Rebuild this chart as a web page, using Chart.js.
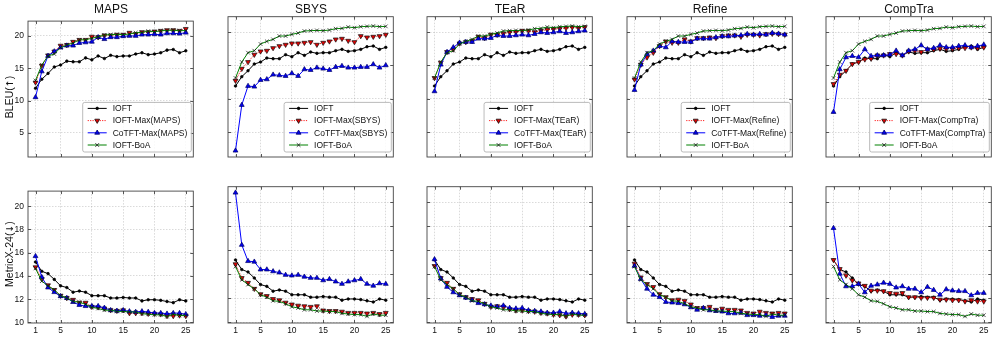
<!DOCTYPE html>
<html>
<head>
<meta charset="utf-8">
<script src="https://cdn.jsdelivr.net/npm/chart.js@4.4.1/dist/chart.umd.min.js"></script>
<style>
  body { margin: 0; background: #fff; }
  #fig { position: relative; width: 997px; height: 339px; overflow: hidden; font-family: 'Liberation Sans', Arial, sans-serif; color: #111; }
  #fig canvas { position: absolute; }
  .title { position: absolute; font-size: 12px; line-height: 13px; text-align: center; }
  .ylab { position: absolute; font-size: 10.5px; line-height: 12px; text-align: center; white-space: nowrap; transform: rotate(-90deg); }
  .arrow { font-family: 'DejaVu Sans', sans-serif; font-size: 9.5px; }
</style>
</head>
<body>
<div id="fig"></div>
<script>
const steps = [1, 2, 3, 4, 5, 6, 7, 8, 9, 10, 11, 12, 13, 14, 15, 16, 17, 18, 19, 20, 21, 22, 23, 24, 25];
const methods = ['MAPS', 'SBYS', 'TEaR', 'Refine', 'CompTra'];
const stepTicks = [1, 5, 10, 15, 20, 25];
const bleuTicks = [5, 10, 15, 20];
const metricTicks = [10, 12, 14, 16, 18, 20];

// BLEU (top row)
const bleuIOFT = [11.9, 13.3, 14.2, 15.2, 15.5, 16.1, 16.0, 16.0, 16.6, 16.3, 16.9, 16.5, 17.0, 16.8, 16.9, 16.9, 17.2, 17.4, 17.1, 17.2, 17.4, 17.8, 17.9, 17.4, 17.7];
const bleuBoA = [13.1, 15.5, 16.9, 17.2, 18.2, 18.6, 18.9, 19.4, 19.4, 19.65, 19.85, 20.15, 20.2, 20.25, 20.2, 20.3, 20.5, 20.55, 20.75, 20.65, 20.8, 20.85, 20.9, 20.8, 20.85];
const bleuMaxMAPS = [12.8, 15.4, 17.0, 17.6, 18.5, 18.6, 19.1, 19.4, 19.4, 19.9, 19.8, 20.1, 20.1, 20.2, 20.2, 20.5, 20.3, 20.6, 20.6, 20.7, 20.8, 20.9, 20.9, 20.8, 21.1];
const bleuCoMAPS = [10.5, 14.5, 16.9, 17.6, 18.2, 18.5, 18.5, 18.9, 19.0, 19.1, 19.8, 19.5, 19.8, 19.8, 19.95, 20.0, 20.0, 20.2, 20.2, 20.25, 20.2, 20.4, 20.4, 20.35, 20.5];
const bleuMaxSBYS = [12.7, 14.5, 15.5, 16.6, 17.1, 17.2, 17.6, 17.9, 18.1, 18.3, 18.3, 18.4, 18.5, 18.1, 18.4, 18.6, 18.9, 19.0, 18.7, 18.5, 19.4, 19.2, 19.3, 19.4, 19.6];
const bleuCoSBYS = [2.2, 9.05, 11.9, 11.8, 12.8, 12.9, 13.6, 13.5, 13.4, 13.8, 13.4, 14.4, 14.3, 14.65, 14.5, 14.3, 14.75, 14.9, 14.65, 14.65, 14.75, 14.75, 15.15, 14.65, 15.0];
const bleuMaxTEaR = [13.1, 15.4, 17.0, 17.4, 18.3, 18.5, 18.7, 19.3, 19.1, 19.6, 19.6, 19.75, 19.95, 20.0, 20.2, 20.2, 20.0, 20.2, 20.35, 20.45, 20.5, 20.6, 20.7, 20.6, 20.75];
const bleuCoTEaR = [11.1, 15.1, 17.0, 17.7, 18.4, 18.5, 18.5, 19.0, 19.0, 19.1, 19.5, 19.4, 19.4, 19.5, 19.6, 19.5, 19.7, 19.95, 19.85, 19.95, 20.1, 19.85, 19.95, 20.1, 20.2];
const bleuMaxRefine = [12.9, 15.1, 16.2, 16.9, 17.9, 18.6, 18.4, 18.4, 18.9, 18.6, 19.1, 19.1, 19.2, 19.1, 19.4, 19.5, 19.5, 19.3, 19.6, 19.6, 19.5, 19.7, 19.75, 19.7, 19.6];
const bleuCoRefine = [11.3, 15.1, 16.7, 17.2, 17.9, 17.7, 18.6, 18.5, 18.5, 18.5, 19.0, 19.0, 19.0, 19.2, 19.35, 19.35, 19.45, 19.5, 19.7, 19.6, 19.7, 19.6, 19.85, 19.75, 19.6];
const bleuMaxCompTra = [12.2, 13.6, 14.2, 15.2, 15.5, 15.9, 16.0, 16.5, 16.5, 16.7, 16.7, 16.5, 17.1, 17.2, 17.0, 17.4, 17.4, 17.5, 17.5, 17.5, 17.6, 17.6, 17.7, 17.6, 17.7];
const bleuCoCompTra = [8.0, 14.4, 16.2, 16.4, 16.2, 17.4, 16.4, 16.5, 16.5, 16.6, 17.2, 16.5, 17.2, 17.4, 18.0, 17.4, 17.6, 18.0, 17.7, 17.7, 17.9, 18.0, 17.7, 17.9, 18.1];

// MetricX-24 (bottom row)
const metricIOFT = [15.2, 14.4, 14.2, 13.7, 13.15, 13.0, 12.6, 12.7, 12.6, 12.3, 12.3, 12.3, 12.1, 12.1, 12.15, 12.1, 12.1, 11.85, 11.95, 11.95, 11.9, 11.8, 11.7, 11.95, 11.85];
const metricBoA = [14.65, 13.55, 13.15, 12.8, 12.3, 12.1, 11.8, 11.75, 11.55, 11.3, 11.2, 11.05, 11.05, 10.95, 10.95, 10.9, 10.9, 10.75, 10.7, 10.65, 10.65, 10.5, 10.7, 10.6, 10.6];
const metricMaxMAPS = [14.75, 13.75, 13.2, 12.8, 12.3, 12.1, 11.95, 11.7, 11.7, 11.35, 11.3, 11.2, 11.05, 11.0, 11.05, 10.8, 10.8, 10.8, 10.75, 10.75, 10.7, 10.55, 10.55, 10.6, 10.55];
const metricCoMAPS = [15.7, 13.9, 13.0, 12.6, 12.25, 12.1, 11.75, 11.5, 11.4, 11.4, 11.4, 11.25, 11.05, 11.0, 11.05, 10.95, 10.9, 10.95, 10.9, 10.8, 10.8, 10.75, 10.8, 10.8, 10.7];
const metricMaxSBYS = [14.85, 13.7, 13.3, 12.8, 12.35, 12.2, 11.95, 11.85, 11.65, 11.5, 11.4, 11.35, 11.3, 11.35, 11.0, 10.95, 10.95, 10.9, 10.8, 10.8, 10.8, 10.75, 10.8, 10.7, 10.8];
const metricCoSBYS = [20.8, 16.45, 15.1, 15.05, 14.4, 14.4, 14.25, 14.15, 13.95, 13.9, 13.95, 13.8, 13.7, 13.7, 13.5, 13.6, 13.4, 13.2, 13.4, 13.5, 13.6, 13.2, 13.05, 13.25, 13.2];
const metricMaxTEaR = [14.7, 13.7, 13.3, 12.8, 12.35, 12.1, 11.95, 11.85, 11.55, 11.3, 11.35, 11.3, 11.1, 11.0, 11.0, 10.95, 10.9, 10.8, 10.75, 10.65, 10.6, 10.5, 10.65, 10.65, 10.6];
const metricCoTEaR = [15.25, 13.65, 12.95, 12.5, 12.25, 12.05, 11.85, 11.6, 11.5, 11.4, 11.3, 11.4, 11.2, 11.15, 11.2, 11.0, 10.95, 10.9, 10.8, 10.8, 10.9, 10.75, 10.8, 10.75, 10.7];
const metricMaxRefine = [14.9, 13.75, 13.2, 12.95, 12.35, 12.1, 11.85, 11.9, 11.8, 11.5, 11.2, 11.2, 11.3, 11.05, 11.15, 11.05, 11.05, 11.0, 10.8, 10.75, 10.9, 10.8, 10.75, 10.8, 10.75];
const metricCoRefine = [14.7, 13.6, 12.8, 12.3, 12.1, 11.7, 11.65, 11.6, 11.5, 11.25, 11.05, 11.2, 11.0, 10.95, 10.9, 10.75, 10.75, 10.8, 10.6, 10.6, 10.55, 10.6, 10.45, 10.55, 10.55];
const metricMaxCompTra = [15.2, 14.45, 13.9, 13.5, 13.25, 13.05, 12.65, 12.65, 12.6, 12.45, 12.4, 12.45, 12.1, 12.1, 12.05, 12.05, 12.05, 11.9, 11.9, 11.85, 11.85, 11.75, 11.85, 11.75, 11.75];
const metricCoCompTra = [17.85, 14.05, 13.0, 13.0, 13.2, 12.5, 13.05, 13.15, 13.3, 13.2, 12.9, 13.0, 12.8, 12.8, 12.5, 12.95, 12.7, 12.3, 12.75, 12.65, 12.6, 12.6, 12.25, 12.45, 12.45];

const bleuMax = [bleuMaxMAPS, bleuMaxSBYS, bleuMaxTEaR, bleuMaxRefine, bleuMaxCompTra];
const bleuCo = [bleuCoMAPS, bleuCoSBYS, bleuCoTEaR, bleuCoRefine, bleuCoCompTra];
const metricMax = [metricMaxMAPS, metricMaxSBYS, metricMaxTEaR, metricMaxRefine, metricMaxCompTra];
const metricCo = [metricCoMAPS, metricCoSBYS, metricCoTEaR, metricCoRefine, metricCoCompTra];

// layout of the plot boxes (px)
const colLeft = [28, 228, 427, 627, 826];
const plotW = 166;
const rowTop = [15, 185];
const rowH = [142, 138];
const yRange = [[1.25, 22.3], [9.95, 21.3]];
const padL = 27, padT = 3, padR = 4, padB = 16;

// series look: IOFT, IOFT-Max, CoTFT-Max, IOFT-BoA
const styles = [
  { color: '#000000', dash: [], point: 'circle', radius: 1.3, fill: '#000', edge: '#000', rot: 0 },
  { color: '#ff2020', dash: [1.2, 1.2], point: 'triangle', radius: 2.8, fill: '#e00000', edge: '#111', rot: 180 },
  { color: '#0000ff', dash: [], point: 'triangle', radius: 2.8, fill: '#0000ee', edge: '#000066', rot: 0 },
  { color: '#008000', dash: [], point: 'crossRot', radius: 2.6, fill: '#000', edge: '#111', rot: 0 }
];

const fig = document.getElementById('fig');
const fontFam = "'Liberation Sans', Arial, sans-serif";

const framePlugin = {
  id: 'frame',
  afterDraw(chart) {
    const a = chart.chartArea, ctx = chart.ctx;
    const xs = chart.scales.x, ys = chart.scales.y;
    ctx.save();
    ctx.strokeStyle = '#444';
    ctx.lineWidth = 0.9;
    ctx.strokeRect(a.left, a.top, a.right - a.left, a.bottom - a.top);
    ctx.beginPath();
    stepTicks.forEach(v => {
      const px = Math.round(xs.getPixelForValue(v)) + 0.5;
      ctx.moveTo(px, a.bottom); ctx.lineTo(px, a.bottom - 3);
      ctx.moveTo(px, a.top); ctx.lineTo(px, a.top + 3);
    });
    ys.ticks.forEach(t => {
      const py = Math.round(ys.getPixelForValue(t.value)) + 0.5;
      ctx.moveTo(a.left, py); ctx.lineTo(a.left + 3, py);
      ctx.moveTo(a.right, py); ctx.lineTo(a.right - 3, py);
    });
    ctx.stroke();

    const labels = chart.options.plugins.frame.labels;
    if (labels) {
      ctx.font = '8.5px ' + fontFam;
      let tw = 0;
      labels.forEach(l => { tw = Math.max(tw, ctx.measureText(l).width); });
      const rowGap = 12.2;
      const w = 30 + tw + 4, h = 6 + rowGap * 3 + 7;
      const x0 = a.right - 2 - w, y0 = a.bottom - 5 - h;
      ctx.beginPath();
      ctx.roundRect(x0, y0, w, h, 2);
      ctx.fillStyle = 'rgba(255,255,255,0.85)';
      ctx.fill();
      ctx.strokeStyle = '#aaa';
      ctx.lineWidth = 0.8;
      ctx.stroke();
      labels.forEach((l, i) => {
        const s = styles[i];
        const y = y0 + 6 + i * rowGap;
        ctx.save();
        ctx.strokeStyle = s.color;
        ctx.lineWidth = 1;
        ctx.setLineDash(s.dash);
        ctx.beginPath();
        ctx.moveTo(x0 + 5, y); ctx.lineTo(x0 + 24, y);
        ctx.stroke();
        ctx.restore();
        ctx.fillStyle = s.fill;
        ctx.strokeStyle = s.edge;
        Chart.helpers.drawPoint(ctx, { pointStyle: s.point, radius: s.radius, rotation: s.rot, borderWidth: 0.7 }, x0 + 14.5, y);
        ctx.fillStyle = '#111';
        ctx.textBaseline = 'middle';
        ctx.textAlign = 'left';
        ctx.fillText(l, x0 + 30, y + 0.5);
      });
    }
    ctx.restore();
  }
};

function addText(cls, text, left, top, width, height, arrow) {
  const d = document.createElement('div');
  d.className = cls;
  d.textContent = text;
  if (arrow) {
    const a = document.createElement('span');
    a.className = 'arrow';
    a.textContent = arrow;
    d.appendChild(a);
    d.appendChild(document.createTextNode(')'));
  }
  d.style.left = left + 'px';
  d.style.top = top + 'px';
  d.style.width = width + 'px';
  d.style.height = height + 'px';
  fig.appendChild(d);
}

function makePanel(row, col) {
  const L = colLeft[col], T = rowTop[row], H = rowH[row];
  const cv = document.createElement('canvas');
  cv.width = plotW + padL + padR;
  cv.height = H + padT + padB;
  cv.style.left = (L - padL) + 'px';
  cv.style.top = (T - padT) + 'px';
  fig.appendChild(cv);

  const m = methods[col];
  const series = row === 0
    ? [bleuIOFT, bleuMax[col], bleuCo[col], bleuBoA]
    : [metricIOFT, metricMax[col], metricCo[col], metricBoA];
  const names = ['IOFT', 'IOFT-Max(' + m + ')', 'CoTFT-Max(' + m + ')', 'IOFT-BoA'];
  const yTicks = row === 0 ? bleuTicks : metricTicks;

  new Chart(cv.getContext('2d'), {
    type: 'line',
    data: {
      datasets: series.map((vals, i) => ({
        label: names[i],
        data: steps.map((s, k) => ({ x: s, y: vals[k] })),
        borderColor: styles[i].color,
        borderWidth: 1,
        borderDash: styles[i].dash,
        pointStyle: styles[i].point,
        pointRadius: styles[i].radius,
        pointRotation: styles[i].rot,
        pointBackgroundColor: styles[i].fill,
        pointBorderColor: styles[i].edge,
        pointBorderWidth: 0.7,
        tension: 0,
        order: 3 - i
      }))
    },
    options: {
      responsive: false,
      animation: false,
      devicePixelRatio: 1,
      layout: { padding: { left: 0, top: padT, right: padR, bottom: 0 } },
      plugins: {
        legend: { display: false },
        tooltip: { enabled: false },
        frame: { labels: row === 0 ? names : null }
      },
      scales: {
        x: {
          type: 'linear',
          min: -0.2,
          max: 26.2,
          afterBuildTicks: s => { s.ticks = stepTicks.map(v => ({ value: v })); },
          afterFit: s => { s.height = padB; },
          ticks: { display: row === 1, padding: 3, color: '#111', font: { size: 8.5, family: fontFam }, maxRotation: 0, autoSkip: false },
          grid: { color: 'rgba(150,150,150,0.45)', lineWidth: 0.8, drawTicks: false },
          border: { display: false, dash: [1.5, 1.5] }
        },
        y: {
          min: yRange[row][0],
          max: yRange[row][1],
          afterBuildTicks: s => { s.ticks = yTicks.map(v => ({ value: v })); },
          afterFit: s => { s.width = padL; },
          ticks: { display: col === 0, padding: 4, color: '#111', font: { size: 8.5, family: fontFam } },
          grid: { color: 'rgba(150,150,150,0.45)', lineWidth: 0.8, drawTicks: false },
          border: { display: false, dash: [1.5, 1.5] }
        }
      }
    },
    plugins: [framePlugin]
  });

  if (row === 0) addText('title', m, L, 3, plotW, 13);
}

for (let r = 0; r < 2; r++) {
  for (let c = 0; c < 5; c++) makePanel(r, c);
}
addText('ylab', 'BLEU(', 9 - 50, 97 - 6, 100, 12, '↑');
addText('ylab', 'MetricX-24(', 9 - 50, 254 - 6, 100, 12, '↓');
</script>
</body>
</html>
